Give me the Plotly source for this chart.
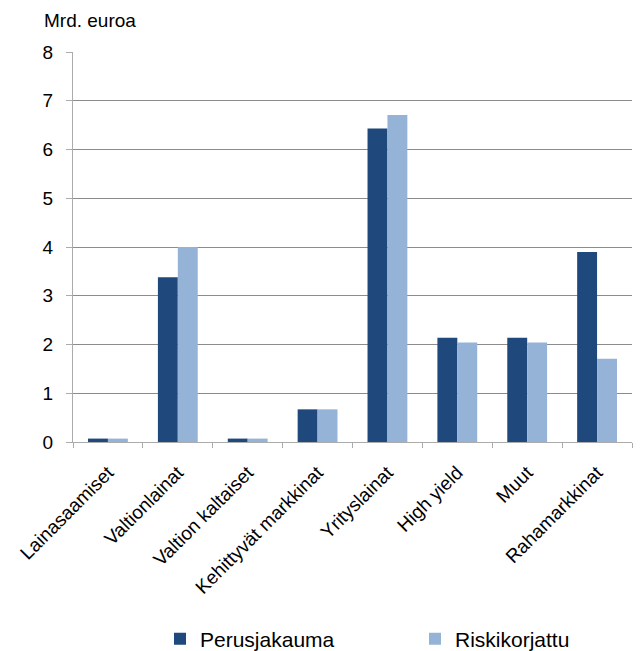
import plotly.graph_objects as go

# Asset classes and allocation amounts (billion euros)
categories = [
    "Lainasaamiset",
    "Valtionlainat",
    "Valtion kaltaiset",
    "Kehittyvät markkinat",
    "Yrityslainat",
    "High yield",
    "Muut",
    "Rahamarkkinat",
]
perusjakauma = [0.07, 3.38, 0.07, 0.67, 6.43, 2.14, 2.14, 3.90]
riskikorjattu = [0.07, 4.00, 0.07, 0.67, 6.71, 2.04, 2.04, 1.71]
y_ticks = [0, 1, 2, 3, 4, 5, 6, 7, 8]

FONT = "Liberation Sans, Arial, Helvetica, sans-serif"
DARK = "#1F497D"
LIGHT = "#95B3D7"
GRID = "#8C8C8C"
AXIS = "#ABABAB"

fig = go.Figure()
fig.add_trace(go.Bar(name="Perusjakauma", x=categories, y=perusjakauma,
                     marker=dict(color=DARK, line=dict(width=0))))
fig.add_trace(go.Bar(name="Riskikorjattu", x=categories, y=riskikorjattu,
                     marker=dict(color=LIGHT, line=dict(width=0))))

fig.update_layout(
    width=640,
    height=651,
    margin=dict(l=73, r=8, t=52, b=209, autoexpand=False),
    paper_bgcolor="white",
    plot_bgcolor="white",
    barmode="group",
    bargap=0.43,
    bargroupgap=0,
    font=dict(family=FONT, size=18, color="black"),
    showlegend=True,
    legend=dict(
        orientation="h",
        xref="container", yref="container",
        x=160 / 640, xanchor="left",
        y=12 / 651, yanchor="middle",
        entrywidth=210, entrywidthmode="pixels",
        font=dict(family=FONT, size=21, color="black"),
        itemclick=False,
        traceorder="normal",
    ),
    annotations=[
        dict(text="Mrd. euroa", xref="paper", yref="paper",
             x=-0.056, y=1.08, xanchor="left", yanchor="middle",
             showarrow=False, font=dict(family=FONT, size=19, color="black")),
    ],
)

fig.update_xaxes(
    type="category",
    automargin=False,
    tickangle=-45,
    tickson="boundaries",
    ticks="outside",
    ticklen=5,
    tickcolor=AXIS,
    showline=True,
    linecolor=AXIS,
    linewidth=1,
    showgrid=False,
    ticklabelstandoff=11,
    tickfont=dict(family=FONT, size=19, color="black"),
)
fig.update_yaxes(
    automargin=False,
    range=[0, 8],
    tickvals=y_ticks,
    ticks="outside",
    ticklen=6,
    tickcolor=AXIS,
    showline=True,
    linecolor=AXIS,
    linewidth=1,
    showgrid=True,
    gridcolor=GRID,
    gridwidth=1,
    zeroline=False,
    ticklabelstandoff=9,
    tickfont=dict(family=FONT, size=19, color="black"),
)

fig.write_html("out.html")
